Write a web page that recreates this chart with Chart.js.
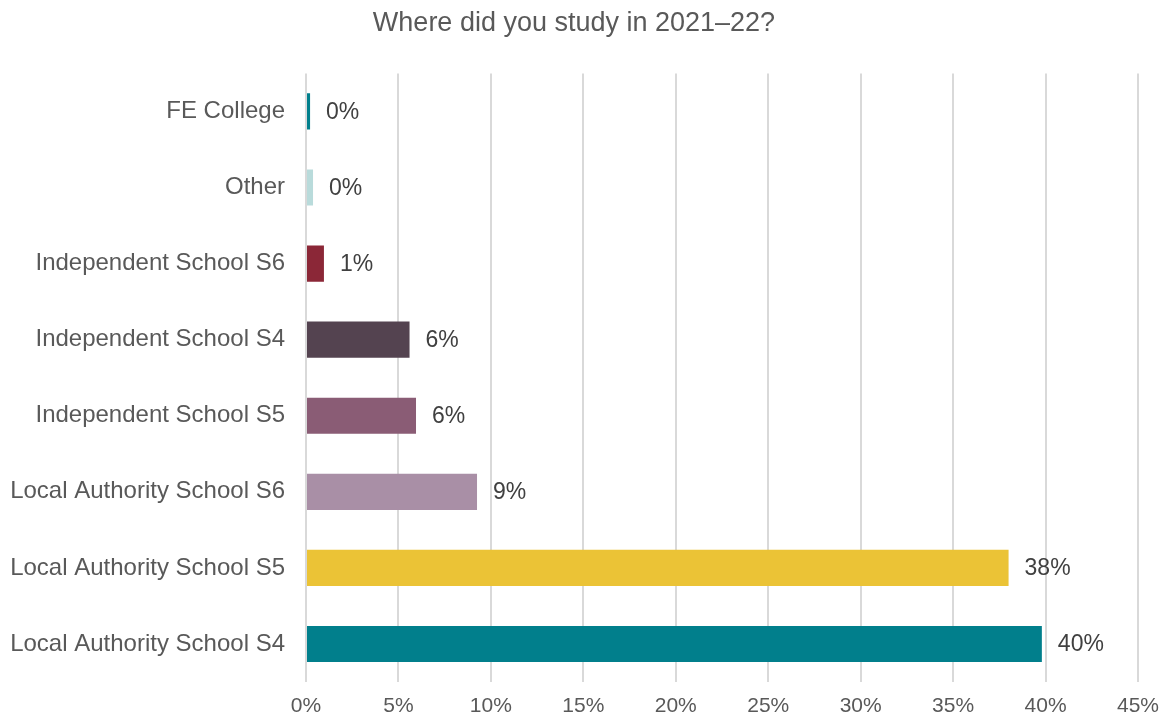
<!DOCTYPE html>
<html lang="en">
<head>
    <meta charset="UTF-8">
    <title>Where did you study in 2021–22?</title>
    <script src="https://cdn.jsdelivr.net/npm/chart.js"></script>
    <style>
        body { margin: 0; background: #fff; }
        #wrap { width: 1165px; height: 717px; }
    </style>
</head>
<body>
    <div id="wrap">
        <canvas id="studyChart" width="1165" height="717"></canvas>
    </div>

    <script>
        const places = [
            'FE College',
            'Other',
            'Independent School S6',
            'Independent School S4',
            'Independent School S5',
            'Local Authority School S6',
            'Local Authority School S5',
            'Local Authority School S4'
        ];
        const shares = [0.22, 0.38, 0.97, 5.6, 5.95, 9.25, 38.0, 39.8];
        const barColours = ['#017f8c', '#b9dbdb', '#8b2737', '#544350', '#8a5c75', '#a98fa6', '#ebc336', '#017f8c'];
        const xTicks = [0, 5, 10, 15, 20, 25, 30, 35, 40, 45];

        const font = "'Liberation Sans', Arial, sans-serif";

        // writes the rounded percentage just right of each bar
        const valueLabels = {
            id: 'valueLabels',
            afterDatasetsDraw(chart) {
                const ctx = chart.ctx;
                const meta = chart.getDatasetMeta(0);
                ctx.save();
                ctx.font = '23px ' + font;
                ctx.fillStyle = '#404040';
                ctx.textAlign = 'left';
                ctx.textBaseline = 'middle';
                meta.data.forEach((bar, i) => {
                    ctx.fillText(Math.round(shares[i]) + '%', bar.x + 16, bar.y + 1);
                });
                ctx.restore();
            }
        };

        new Chart(document.getElementById('studyChart'), {
            type: 'bar',
            data: {
                labels: places,
                datasets: [{
                    data: shares,
                    backgroundColor: barColours,
                    barPercentage: 0.95,
                    categoryPercentage: 0.5
                }]
            },
            options: {
                indexAxis: 'y',
                responsive: false,
                animation: false,
                layout: { padding: { left: 10, right: 27, top: 7, bottom: 0 } },
                plugins: {
                    legend: { display: false },
                    tooltip: { enabled: false },
                    title: {
                        display: true,
                        text: 'Where did you study in 2021–22?',
                        color: '#595959',
                        font: { family: font, size: 27, weight: 'normal' },
                        padding: { top: 0, bottom: 34 }
                    }
                },
                scales: {
                    x: {
                        min: 0,
                        max: 45,
                        afterBuildTicks: axis => { axis.ticks = xTicks.map(v => ({ value: v })); },
                        afterFit: axis => {
                            axis.height = 35;
                            axis.paddingLeft = 0;
                            axis.paddingRight = 0;
                        },
                        grid: { color: '#d9d9d9', lineWidth: 2, drawTicks: false },
                        border: { display: false },
                        ticks: {
                            color: '#595959',
                            font: { family: font, size: 21 },
                            padding: 12,
                            callback: v => v + '%'
                        }
                    },
                    y: {
                        afterFit: axis => { axis.width = 296; },
                        grid: { display: false },
                        border: { display: false },
                        ticks: {
                            color: '#595959',
                            font: { family: font, size: 24 },
                            padding: 13
                        }
                    }
                }
            },
            plugins: [valueLabels]
        });
    </script>
</body>
</html>
